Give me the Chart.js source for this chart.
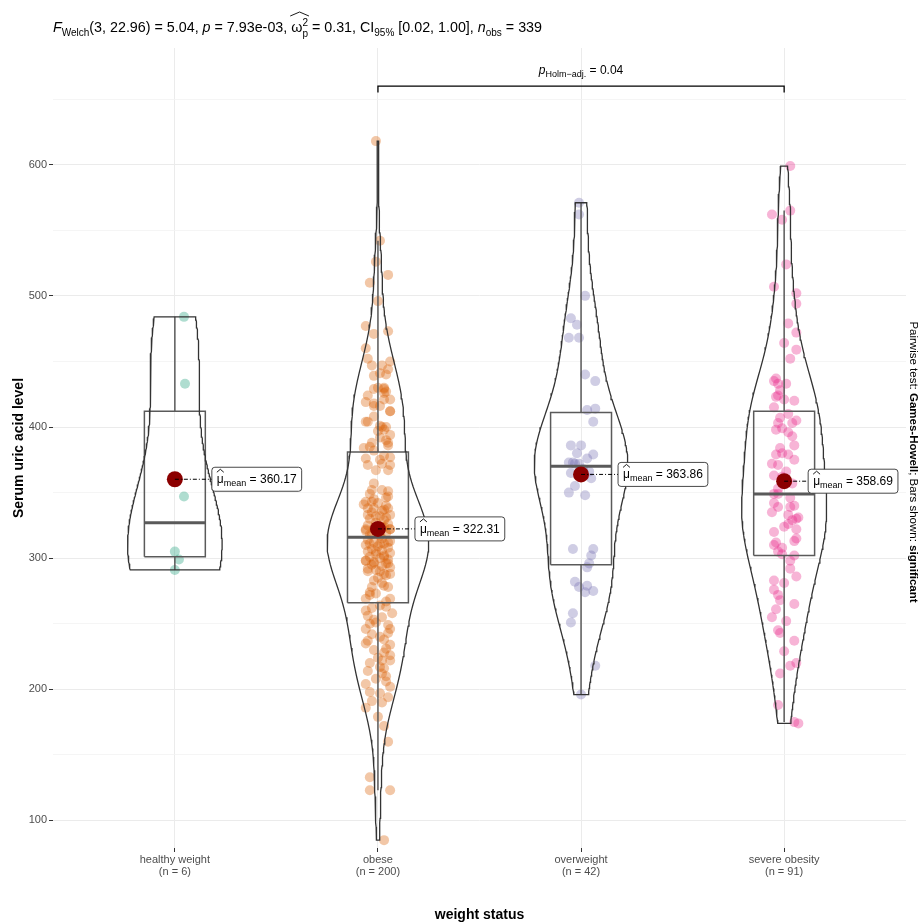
<!DOCTYPE html>
<html>
<head>
<meta charset="utf-8">
<script src="https://cdn.jsdelivr.net/npm/chart.js@4.4.1/dist/chart.umd.min.js"></script>
<style>
  html, body { margin: 0; padding: 0; background: #fff; }
  canvas { display: block; }
</style>
</head>
<body>
<canvas id="chart" width="918" height="924"></canvas>
<script>
var FONT = '"Liberation Sans", Arial, sans-serif';

var categories = ['healthy weight', 'obese', 'overweight', 'severe obesity'];
var counts = [6, 200, 42, 91];
var pointColors = ['rgba(27,158,119,0.35)', 'rgba(217,95,2,0.35)', 'rgba(117,112,179,0.35)', 'rgba(231,41,138,0.35)'];
var meanValues = [360.17, 322.31, 363.86, 358.69];
var boxLow = [291, 123, 196, 175];
var boxQ1 = [301, 266, 295, 302];
var boxMedian = [327, 316, 370, 349];
var boxQ3 = [412, 381, 411, 412];
var boxHigh = [484, 542, 571, 565];
var yTicks = [100, 150, 200, 250, 300, 350, 400, 450, 500, 550, 600, 650];
var yMin = 79, yMax = 689;
var pairBracket = { from: 2, to: 4, y: 660, tip: 655, label: '0.04' };

// [jitter offset, serum uric acid]
var healthyPoints = [[0.045, 484], [0.05, 433], [0.045, 347], [0, 305], [0.02, 299], [0, 291]];

var obesePoints = [
  [-0.01, 618], [0.01, 542], [-0.01, 526], [0.05, 516], [-0.04, 510], [0, 496], [-0.06, 477], [0.05, 473], [-0.02, 471], [-0.06, 460],
  [-0.05, 452], [-0.03, 447], [0.06, 450], [0.02, 447], [0.05, 444], [-0.02, 439], [0.01, 441], [0.04, 440], [0, 430], [-0.02, 429],
  [0.03, 429], [-0.05, 424], [0.04, 427], [-0.06, 419], [0.03, 421], [0.06, 421], [-0.02, 416], [0.01, 416], [0.06, 412], [-0.02, 408],
  [-0.05, 404], [0.01, 401], [0.04, 400],
  [0.03, 430], [0.03, 426], [-0.02, 418], [0.06, 412], [-0.06, 404], [0.02, 400], [0, 397], [0.03, 398], [0.06, 394], [0.04, 390],
  [0.05, 388], [-0.03, 388], [-0.07, 384], [-0.04, 385], [-0.02, 382], [0.01, 392], [0.05, 386],
  [0.03, 378], [-0.06, 376], [0.01, 375], [0.06, 377], [-0.05, 371], [0.02, 372], [0.06, 371], [-0.01, 367], [0.05, 367], [-0.02, 357],
  [-0.03, 352], [0.05, 351], [-0.06, 343], [-0.03, 343], [0.04, 346], [-0.07, 341], [-0.02, 338], [0.03, 337], [0.05, 338], [-0.05, 333],
  [-0.01, 332], [0.04, 331], [-0.06, 322], [0.03, 324], [0.06, 322], [-0.04, 318],
  [0.02, 352], [-0.04, 349], [0.05, 347], [-0.02, 345], [0, 342], [0.04, 340], [-0.05, 338], [0.02, 336], [-0.03, 335], [0.06, 333],
  [0.01, 332], [-0.04, 330], [0.03, 329], [-0.01, 327], [0.05, 326], [-0.05, 325], [0.02, 324], [-0.02, 323], [0.06, 322], [-0.06, 321],
  [0, 320], [0.04, 319], [-0.03, 318], [0.01, 317],
  [-0.04, 311], [0.01, 311], [0.05, 312], [-0.01, 305], [-0.06, 298], [-0.02, 296], [0.03, 301], [0.05, 296], [-0.05, 290], [-0.01, 291],
  [0.03, 288], [0.06, 288], [0, 285], [-0.03, 278], [0.02, 281], [0.05, 278], [-0.04, 274], [-0.01, 273], [-0.06, 269], [0.06, 269],
  [0.04, 267],
  [0.02, 315], [-0.05, 314], [0.06, 313], [-0.02, 312], [0.03, 311], [-0.06, 310], [0, 309], [0.05, 308], [-0.03, 307], [0.02, 306],
  [-0.05, 305], [0.06, 304], [-0.01, 303], [0.03, 302], [-0.04, 301], [0.01, 300], [0.05, 299], [-0.06, 298], [-0.02, 297], [0.04, 296],
  [-0.03, 295], [0.02, 294], [0.06, 293], [-0.05, 292], [0.01, 290], [0.04, 287], [-0.02, 283], [0.03, 279], [-0.04, 272],
  [-0.03, 262], [-0.06, 260], [0.07, 258], [-0.02, 253], [-0.04, 250], [-0.06, 246], [0.05, 249], [0.06, 246], [-0.06, 235], [0.03, 238],
  [0.06, 234], [0.03, 228], [0, 224], [0.02, 222], [0.06, 222], [0.01, 217], [0.03, 216], [-0.05, 214], [0.04, 210], [0.04, 206],
  [-0.06, 204], [0.06, 202], [0.01, 197], [-0.03, 191], [0.02, 190], [0, 179], [0.05, 160], [-0.04, 133], [-0.04, 123], [0.06, 123],
  [0.03, 85],
  [0.01, 264], [0.04, 263], [-0.05, 256], [0.02, 255], [-0.01, 251], [0.05, 243], [-0.03, 242], [0.01, 240], [-0.05, 237], [0.04, 231],
  [-0.02, 230], [0.06, 226], [-0.04, 220], [0.02, 212], [-0.01, 208], [-0.04, 198], [0.05, 194], [-0.06, 186], [0.03, 172]
];

var overweightPoints = [
  [-0.01, 571], [-0.01, 562], [0.02, 500], [-0.05, 483], [-0.02, 478], [-0.06, 468], [-0.01, 468], [0.02, 440], [0.07, 435], [0.03, 413],
  [0.07, 414], [0.06, 404], [-0.05, 386], [0, 386], [0.06, 379], [-0.06, 373], [-0.04, 373], [-0.01, 372], [0.03, 376], [-0.05, 365],
  [0.05, 361], [-0.06, 350], [0.02, 348], [-0.04, 307], [0.06, 307], [0.05, 302], [0.04, 296], [0.03, 293], [-0.03, 282], [-0.01, 278],
  [0.03, 279], [0.02, 274], [0.06, 275], [-0.04, 258], [-0.05, 251], [0.07, 218],
  [0, 196], [-0.03, 372], [0.01, 368], [-0.02, 380], [0.04, 366], [-0.03, 355]
];

var severePoints = [
  [0.03, 599], [-0.06, 562], [-0.01, 558], [0.03, 565], [0.01, 524], [-0.05, 507], [0.06, 502], [0.06, 494], [0.02, 479], [0.06, 472],
  [0, 464], [0.06, 459], [0.03, 452], [-0.04, 437], [-0.05, 435], [-0.03, 433], [0.01, 433], [-0.02, 428], [-0.03, 424], [-0.04, 423],
  [0, 421], [0.05, 420], [-0.05, 415], [-0.02, 407], [0.06, 405], [-0.03, 403], [0.04, 403], [-0.01, 399], [0.02, 396], [0.04, 393],
  [-0.04, 379], [-0.01, 380], [0.02, 379], [0.05, 375], [-0.06, 372], [-0.03, 371], [-0.05, 363], [-0.01, 362], [-0.05, 349], [-0.03, 349],
  [-0.05, 342], [-0.03, 339], [0.03, 339], [0.05, 340], [0.02, 333], [0.06, 330], [0.04, 329], [0.02, 326], [0.07, 331], [-0.05, 320],
  [0.06, 322], [0.06, 315], [-0.04, 312], [-0.05, 310], [-0.01, 308], [-0.01, 303], [0.03, 298], [0.05, 302], [0.06, 286], [0, 281],
  [-0.05, 276], [-0.03, 272], [-0.02, 268], [0.05, 265], [-0.04, 261], [-0.06, 255], [-0.03, 245], [-0.02, 243], [0.05, 237], [0, 229],
  [0.06, 220], [0.03, 218], [-0.03, 188], [0.05, 175], [0.07, 174],
  [0.02, 410], [-0.04, 398], [0.05, 386], [-0.02, 384], [0.01, 366], [0.04, 357], [-0.03, 353], [0.03, 292], [-0.05, 283], [0.01, 252],
  [-0.02, 212], [0.03, 346], [-0.06, 335], [0, 324], [0.05, 313], [-0.03, 305]
];

var groups = [healthyPoints, obesePoints, overweightPoints, severePoints];

// gaussian kde like R density(bw = "nrd0"), trimmed to the data range
function quantile(s, p) {
  var h = (s.length - 1) * p, lo = Math.floor(h);
  var hi = Math.min(lo + 1, s.length - 1);
  return s[lo] + (h - lo) * (s[hi] - s[lo]);
}

function density(values) {
  var s = values.slice().sort(function (a, b) { return a - b; });
  var n = s.length;
  var mean = s.reduce(function (t, v) { return t + v; }, 0) / n;
  var sd = Math.sqrt(s.reduce(function (t, v) { return t + (v - mean) * (v - mean); }, 0) / (n - 1));
  var lo = Math.min(sd, (quantile(s, 0.75) - quantile(s, 0.25)) / 1.34) || sd;
  var bw = 0.9 * lo * Math.pow(n, -0.2);
  var out = [];
  for (var i = 0; i <= 160; i++) {
    var y = s[0] + (s[n - 1] - s[0]) * i / 160;
    var d = 0;
    for (var j = 0; j < n; j++) {
      var z = (y - s[j]) / bw;
      d += Math.exp(-0.5 * z * z);
    }
    out.push({ y: y, d: d / (n * bw * Math.sqrt(2 * Math.PI)) });
  }
  return out;
}

var dens = groups.map(function (g) { return density(g.map(function (p) { return p[1]; })); });
var maxDens = 0;
dens.forEach(function (dd) { dd.forEach(function (p) { if (p.d > maxDens) maxDens = p.d; }); });

var datasets = [];

groups.forEach(function (g, i) {
  var c = i + 1;
  datasets.push({
    data: g.map(function (p) { return { x: c + p[0], y: p[1] }; }),
    backgroundColor: pointColors[i],
    borderWidth: 0,
    pointRadius: 5,
    order: 4
  });

  var right = dens[i].map(function (p) { return { x: c + 0.25 * p.d / maxDens, y: p.y }; });
  var left = dens[i].map(function (p) { return { x: c - 0.25 * p.d / maxDens, y: p.y }; }).reverse();
  var outline = right.concat(left);
  outline.push(right[0]);
  datasets.push({
    data: outline,
    showLine: true,
    borderColor: '#333333',
    borderWidth: 1.3,
    pointRadius: 0,
    fill: false,
    order: 1
  });

  var boxStyle = { showLine: true, borderColor: '#5A5A5A', borderWidth: 1.5, pointRadius: 0, fill: false, order: 2 };
  datasets.push(Object.assign({
    data: [
      { x: c - 0.15, y: boxQ1[i] }, { x: c + 0.15, y: boxQ1[i] },
      { x: c + 0.15, y: boxQ3[i] }, { x: c - 0.15, y: boxQ3[i] },
      { x: c - 0.15, y: boxQ1[i] }
    ]
  }, boxStyle));
  datasets.push(Object.assign({}, boxStyle, {
    data: [{ x: c - 0.15, y: boxMedian[i] }, { x: c + 0.15, y: boxMedian[i] }],
    borderWidth: 3
  }));
  datasets.push(Object.assign({ data: [{ x: c, y: boxQ3[i] }, { x: c, y: boxHigh[i] }] }, boxStyle));
  datasets.push(Object.assign({ data: [{ x: c, y: boxQ1[i] }, { x: c, y: boxLow[i] }] }, boxStyle));
});

datasets.push({
  data: meanValues.map(function (m, i) { return { x: i + 1, y: m }; }),
  backgroundColor: '#8B0000',
  borderWidth: 0,
  pointRadius: 8,
  order: 0
});

function fontFor(p, base) {
  return (p.it ? 'italic ' : '') + (p.bold ? 'bold ' : '') + (p.size || base) + 'px ' + FONT;
}

// draws text parts in a row, returns extents of parts tagged with "hat"
function drawRich(ctx, parts, x, y, base, align) {
  var widths = parts.map(function (p) { ctx.font = fontFor(p, base); return ctx.measureText(p.t).width; });
  var total = 0;
  parts.forEach(function (p, i) { if (!p.stack) total += widths[i]; });
  var cx = align === 'center' ? x - total / 2 : x;
  var hats = {};
  parts.forEach(function (p, i) {
    ctx.font = fontFor(p, base);
    ctx.fillText(p.t, cx, y + (p.dy || 0));
    if (p.hat) {
      var h = hats[p.hat] || { x0: cx, x1: cx };
      h.x0 = Math.min(h.x0, cx);
      h.x1 = Math.max(h.x1, cx + widths[i]);
      hats[p.hat] = h;
    }
    if (!p.stack) cx += widths[i];
  });
  hats.width = total;
  return hats;
}

function drawHat(ctx, x0, x1, top, h) {
  ctx.save();
  ctx.beginPath();
  ctx.moveTo(x0, top + h);
  ctx.lineTo((x0 + x1) / 2, top);
  ctx.lineTo(x1, top + h);
  ctx.lineWidth = 0.9;
  ctx.strokeStyle = '#000';
  ctx.stroke();
  ctx.restore();
}

var labelOffsets = [37, 37, 37, 24];

var annotations = {
  id: 'annotations',
  beforeDraw: function (chart) {
    var ctx = chart.ctx;
    ctx.save();
    ctx.fillStyle = '#fff';
    ctx.fillRect(0, 0, chart.width, chart.height);
    ctx.restore();
  },
  afterDatasetsDraw: function (chart) {
    var ctx = chart.ctx, xs = chart.scales.x, ys = chart.scales.y;
    ctx.save();
    ctx.textBaseline = 'alphabetic';
    ctx.fillStyle = '#000';

    // mean labels
    meanValues.forEach(function (m, i) {
      var mx = xs.getPixelForValue(i + 1), my = ys.getPixelForValue(m);
      var lx = mx + labelOffsets[i];
      var parts = [{ t: '\u03bc', hat: 'mu' }, { t: 'mean', size: 9, dy: 3 }, { t: ' = ' + m.toFixed(2) }];
      var w = 0;
      parts.forEach(function (p) { ctx.font = fontFor(p, 12); w += ctx.measureText(p.t).width; });
      ctx.beginPath();
      ctx.setLineDash([4, 2, 1, 2]);
      ctx.moveTo(mx, my);
      ctx.lineTo(lx, my);
      ctx.strokeStyle = '#000';
      ctx.lineWidth = 1;
      ctx.stroke();
      ctx.setLineDash([]);
      ctx.beginPath();
      ctx.roundRect(lx, my - 12, w + 10, 24, 3);
      ctx.fillStyle = '#fff';
      ctx.fill();
      ctx.strokeStyle = '#333';
      ctx.lineWidth = 0.9;
      ctx.stroke();
      ctx.fillStyle = '#000';
      var hats = drawRich(ctx, parts, lx + 5, my + 4, 12, 'left');
      drawHat(ctx, hats.mu.x0, hats.mu.x1, my - 10, 3);
    });

    // pairwise bracket
    var bx0 = xs.getPixelForValue(pairBracket.from), bx1 = xs.getPixelForValue(pairBracket.to);
    var by = ys.getPixelForValue(pairBracket.y), bt = ys.getPixelForValue(pairBracket.tip);
    ctx.beginPath();
    ctx.moveTo(bx0, bt);
    ctx.lineTo(bx0, by);
    ctx.lineTo(bx1, by);
    ctx.lineTo(bx1, bt);
    ctx.strokeStyle = '#000';
    ctx.lineWidth = 1.3;
    ctx.stroke();
    drawRich(ctx, [
      { t: 'p', it: true },
      { t: 'Holm\u2212adj.', size: 9, dy: 3 },
      { t: ' = ' + pairBracket.label }
    ], (bx0 + bx1) / 2, by - 12, 12, 'center');
    ctx.restore();
  },
  afterDraw: function (chart) {
    var ctx = chart.ctx, area = chart.chartArea;
    ctx.save();
    ctx.fillStyle = '#000';
    ctx.textBaseline = 'alphabetic';

    // title
    var hats = drawRich(ctx, [
      { t: 'F', it: true },
      { t: 'Welch', size: 10, dy: 4 },
      { t: '(3, 22.96) = 5.04, ' },
      { t: 'p', it: true },
      { t: ' = 7.93e-03, ' },
      { t: '\u03c9', hat: 'w' },
      { t: '2', size: 10, dy: -6, stack: true, hat: 'w' },
      { t: 'p', size: 10, dy: 5, hat: 'w' },
      { t: ' = 0.31, CI' },
      { t: '95%', size: 10, dy: 4 },
      { t: ' [0.02, 1.00], ' },
      { t: 'n', it: true },
      { t: 'obs', size: 10, dy: 4 },
      { t: ' = 339' }
    ], area.left, 32, 14.3, 'left');
    drawHat(ctx, hats.w.x0 - 1, hats.w.x1 + 1, 12, 4);

    // axis titles
    ctx.font = 'bold 14px ' + FONT;
    ctx.textAlign = 'center';
    ctx.fillText('weight status', (area.left + area.right) / 2, 919);
    ctx.save();
    ctx.translate(23, (area.top + area.bottom) / 2);
    ctx.rotate(-Math.PI / 2);
    ctx.fillText('Serum uric acid level', 0, 0);
    ctx.restore();
    ctx.textAlign = 'left';

    // right caption, partly cut off by the page edge
    ctx.save();
    ctx.translate(910, (area.top + area.bottom) / 2 + 14);
    ctx.rotate(Math.PI / 2);
    drawRich(ctx, [
      { t: 'Pairwise test: ' },
      { t: 'Games-Howell', bold: true },
      { t: '; Bars shown: ' },
      { t: 'significant', bold: true }
    ], 0, 0, 11.5, 'center');
    ctx.restore();
    ctx.restore();
  }
};

new Chart(document.getElementById('chart').getContext('2d'), {
  type: 'scatter',
  data: { datasets: datasets },
  plugins: [annotations],
  options: {
    responsive: false,
    animation: false,
    events: [],
    layout: { padding: { top: 48, right: 12, bottom: 0, left: 0 } },
    plugins: { legend: { display: false }, tooltip: { enabled: false } },
    scales: {
      x: {
        type: 'linear',
        min: 0.4,
        max: 4.6,
        afterBuildTicks: function (axis) {
          axis.ticks = categories.map(function (c, i) { return { value: i + 1 }; });
        },
        afterFit: function (axis) { axis.height = 76; },
        border: { display: false },
        grid: { color: '#EBEBEB', lineWidth: 1, tickLength: 4, tickColor: '#333333' },
        ticks: {
          autoSkip: false,
          maxRotation: 0,
          padding: 2,
          color: '#4D4D4D',
          font: { family: FONT, size: 11, lineHeight: 1.1 },
          callback: function (v) {
            var i = Math.round(v) - 1;
            return [categories[i], '(n = ' + counts[i] + ')'];
          }
        }
      },
      y: {
        type: 'linear',
        min: yMin,
        max: yMax,
        afterBuildTicks: function (axis) {
          axis.ticks = yTicks.map(function (v) { return { value: v }; });
        },
        afterFit: function (axis) { axis.width = 53; },
        border: { display: false },
        grid: {
          color: function (ctx) { return ctx.tick && ctx.tick.value % 100 === 0 ? '#EBEBEB' : '#F3F3F3'; },
          lineWidth: function (ctx) { return ctx.tick && ctx.tick.value % 100 === 0 ? 1 : 0.8; },
          tickLength: 4,
          tickColor: function (ctx) { return ctx.tick && ctx.tick.value % 100 === 0 ? '#333333' : 'rgba(0,0,0,0)'; }
        },
        ticks: {
          padding: 2,
          color: '#4D4D4D',
          font: { family: FONT, size: 11 },
          callback: function (v) { return v % 100 === 0 ? String(v) : ''; }
        }
      }
    }
  }
});
</script>
</body>
</html>
